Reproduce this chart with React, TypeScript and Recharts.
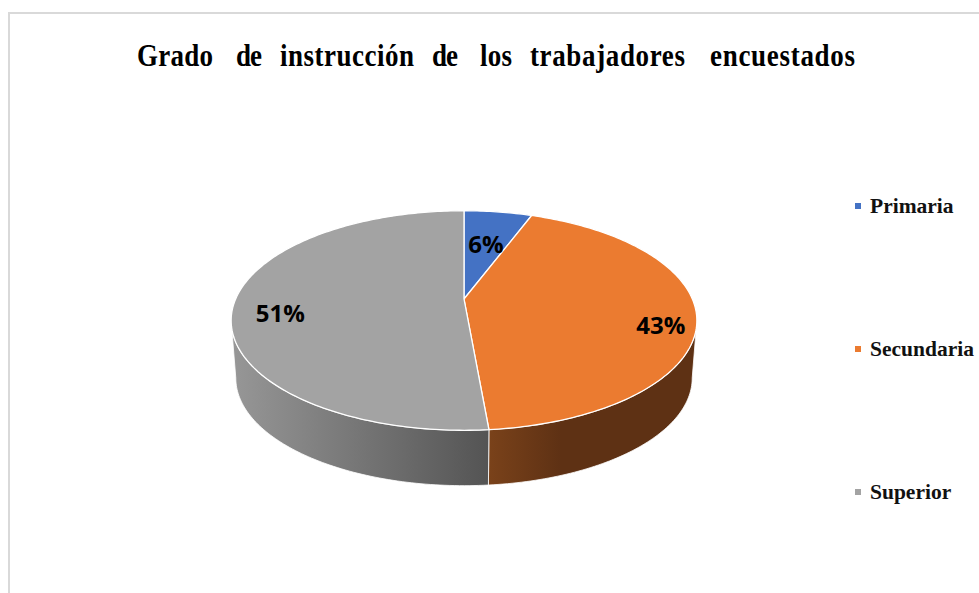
import React from "react";
import { PieChart, Pie, Legend } from "recharts";

const categories = ["Primaria", "Secundaria", "Superior"];
const shares = [5.7, 42.9, 51.4];
const colors = ["#4472c4", "#eb7b30", "#a3a3a3"];
const titleWords = ["Grado", "de", "instrucción", "de", "los", "trabajadores", "encuestados"];

const table = categories.map((name, i) => ({ name, value: shares[i], fill: colors[i] }));

const WIDTH = 979;
const HEIGHT = 593;
const CX = 464;
const CY = 299;
const R = 233;
// perspective of the tilted disc
const K = 0.196;
const SX = 0.98;
const SY = 0.453;
const DEPTH_SCALE = 0.98;
const DEPTH = 58;
const VIS_FROM = 101.3;
const VIS_TO = 258.7;

const project = (cx: number, cy: number, radius: number, theta: number, frac = 1, scale = 1, dy = 0) => {
  const t = (theta * Math.PI) / 180;
  const d = 1 + K * frac * Math.cos(t);
  return {
    x: cx + (scale * SX * radius * frac * Math.sin(t)) / d,
    y: cy + dy - (scale * SY * radius * frac * Math.cos(t)) / d,
  };
};

const arcPoints = (cx: number, cy: number, r: number, a: number, b: number, scale = 1, dy = 0) => {
  const n = Math.max(2, Math.ceil(Math.abs(b - a)));
  const pts: string[] = [];
  for (let i = 0; i <= n; i++) {
    const p = project(cx, cy, r, a + ((b - a) * i) / n, 1, scale, dy);
    pts.push(`${p.x.toFixed(2)} ${p.y.toFixed(2)}`);
  }
  return pts;
};

const Slice3D = (props: any) => {
  const { cx, cy, outerRadius, startAngle, endAngle, fill, index } = props;
  const a = 90 - startAngle;
  const b = 90 - endAngle;
  const from = Math.max(a, VIS_FROM);
  const to = Math.min(b, VIS_TO);
  const top = arcPoints(cx, cy, outerRadius, a, b);
  let wall = null;
  if (to > from) {
    const upper = arcPoints(cx, cy, outerRadius, from, to);
    const lower = arcPoints(cx, cy, outerRadius, to, from, DEPTH_SCALE, DEPTH);
    wall = (
      <path
        d={`M${upper.join("L")}L${lower.join("L")}Z`}
        fill={`url(#wall${index})`}
        stroke="#ffffff"
        strokeWidth={0.8}
      />
    );
  }
  return (
    <g>
      {wall}
      <path
        d={`M${cx} ${cy}L${top.join("L")}Z`}
        fill={fill}
        stroke="#ffffff"
        strokeWidth={1.3}
        strokeLinejoin="round"
      />
    </g>
  );
};

const LABEL_FRAC = [0.6, 0.85, 0.8];
const LABEL_DY = [0, 13, 10];

const renderLabel = (props: any) => {
  const { cx, cy, outerRadius, midAngle, percent, index } = props;
  const p = project(cx, cy, outerRadius, 90 - midAngle, LABEL_FRAC[index], 1, LABEL_DY[index]);
  return (
    <text
      x={p.x}
      y={p.y}
      textAnchor="middle"
      dominantBaseline="central"
      fill="#000000"
      fontFamily="'Open Sans', 'Noto Sans', sans-serif"
      fontWeight={700}
      fontSize={24}
    >
      {`${Math.round(percent * 100)}%`}
    </text>
  );
};

const LegendBlock = ({ payload }: any) => (
  <div style={{ fontFamily: "'Liberation Serif', serif", fontWeight: 700, fontSize: 21.5, color: "#111111" }}>
    {(payload || []).map((entry: any) => (
      <div key={entry.value} style={{ height: 143, display: "flex", alignItems: "flex-start" }}>
        <span style={{ width: 6, height: 6, marginTop: 9, marginRight: 9, background: entry.color, flex: "none" }} />
        <span style={{ lineHeight: "24px", whiteSpace: "nowrap" }}>{entry.value}</span>
      </div>
    ))}
  </div>
);

const WORD_X = [137, 236, 280, 432, 480, 530, 710];
const WORD_W = [76, 26, 134, 26, 32, 155, 145];

export default function App() {
  return (
    <div style={{ position: "absolute", left: 0, top: 0, width: WIDTH, height: HEIGHT, background: "#ffffff", overflow: "hidden" }}>
      <div
        style={{
          position: "absolute",
          left: 8,
          top: 12,
          width: WIDTH,
          height: HEIGHT,
          borderLeft: "2px solid #d9d9d9",
          borderTop: "2px solid #d9d9d9",
        }}
      />
      <PieChart width={WIDTH} height={HEIGHT} margin={{ top: 0, right: 0, bottom: 0, left: 0 }} style={{ position: "absolute", left: 0, top: 0 }}>
        <defs>
          <linearGradient id="wall1" x1="0" y1="0" x2="1" y2="0">
            <stop offset="0" stopColor="#7a421a" />
            <stop offset="0.35" stopColor="#5e3114" />
            <stop offset="1" stopColor="#5e3114" />
          </linearGradient>
          <linearGradient id="wall2" x1="0" y1="0" x2="1" y2="0">
            <stop offset="0" stopColor="#979797" />
            <stop offset="1" stopColor="#545454" />
          </linearGradient>
        </defs>
        <text
          transform="translate(0 66) scale(1 1.2)"
          fontFamily="'Liberation Serif', serif"
          fontWeight={700}
          fontSize={27}
          fill="#000000"
        >
          {titleWords.map((w, i) => (
            <tspan key={i} x={WORD_X[i]} y={0} textLength={WORD_W[i]} lengthAdjust="spacing">
              {w}
            </tspan>
          ))}
        </text>
        <Pie
          data={table}
          dataKey="value"
          nameKey="name"
          cx={CX}
          cy={CY}
          outerRadius={R}
          startAngle={90}
          endAngle={-270}
          paddingAngle={0}
          stroke="none"
          shape={Slice3D}
          label={renderLabel}
          labelLine={false}
          isAnimationActive={false}
        />
        <Legend
          layout="vertical"
          align="right"
          verticalAlign="top"
          content={<LegendBlock />}
          wrapperStyle={{ position: "absolute", left: 855, top: 194, width: 124, margin: 0 }}
        />
      </PieChart>
    </div>
  );
}
